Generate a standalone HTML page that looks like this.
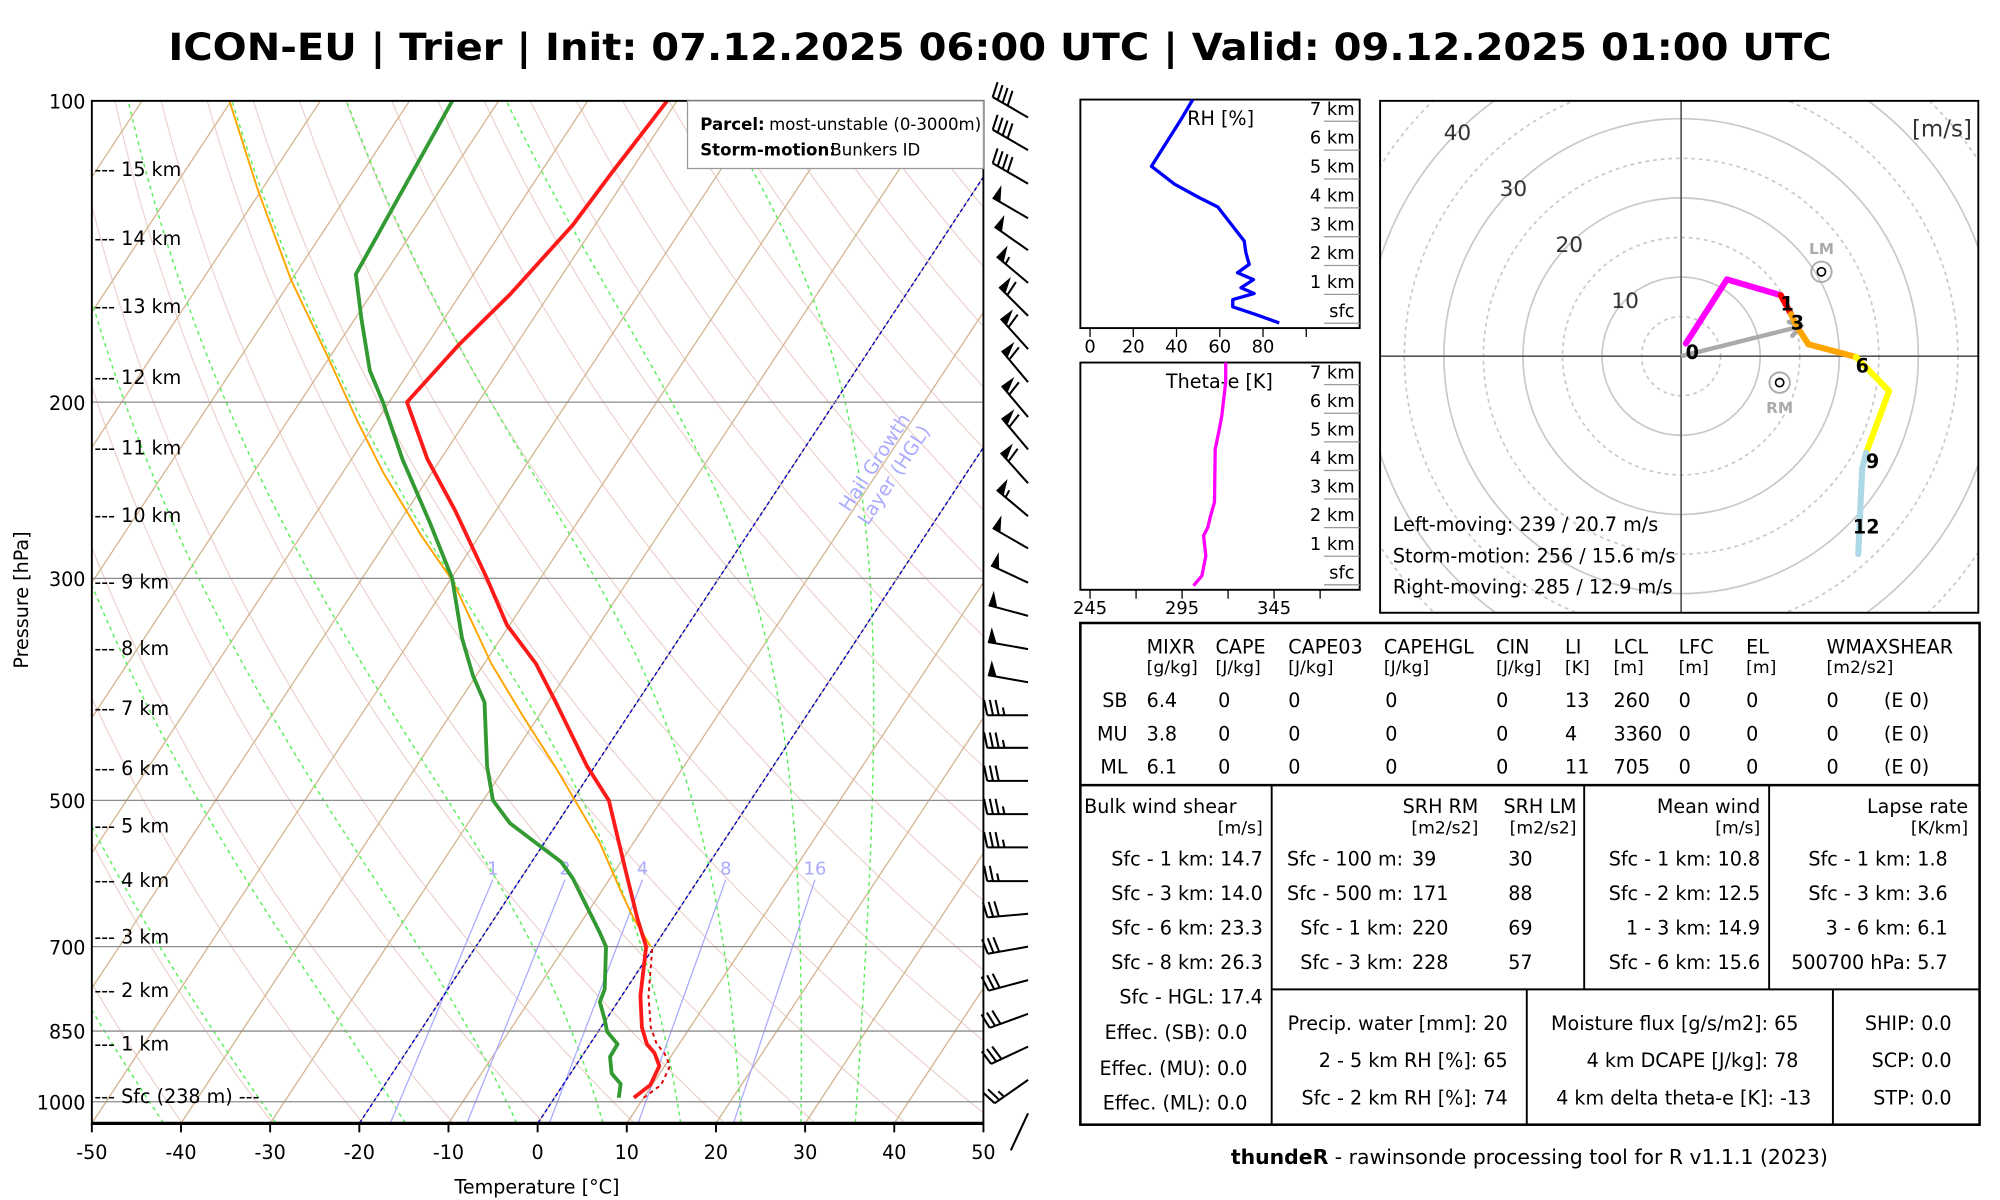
<!DOCTYPE html>
<html><head><meta charset="utf-8"><title>ICON-EU Trier sounding</title>
<style>
html,body{margin:0;padding:0;background:#fff;}
svg{display:block;}
text{font-family:"DejaVu Sans","Liberation Sans",sans-serif;}
</style></head>
<body>
<svg id="c" xmlns="http://www.w3.org/2000/svg" viewBox="0 0 1568 940" width="2000" height="1200" preserveAspectRatio="none">
<defs>
<clipPath id="clipSkew"><rect x="72" y="79" width="699" height="801"/></clipPath>
<clipPath id="clipHodo"><rect x="1082" y="79" width="469" height="401"/></clipPath>
<clipPath id="clipRH"><rect x="847" y="78" width="219" height="179"/></clipPath>
<clipPath id="clipTE"><rect x="847" y="284" width="219" height="178"/></clipPath>
</defs>
<rect x="0" y="0" width="1568" height="940" fill="#fff"/>
<text x="784" y="47" text-anchor="middle" font-size="29" font-weight="bold" textLength="1304" lengthAdjust="spacingAndGlyphs">ICON-EU | Trier | Init: 07.12.2025 06:00 UTC | Valid: 09.12.2025 01:00 UTC</text>

<g id="skewBg" clip-path="url(#clipSkew)"></g>
<g id="skewData" clip-path="url(#clipSkew)"></g>
<g id="skewAxes"></g>
<g id="barbs"></g>

<g>
<rect x="539" y="79" width="232" height="53" fill="#fff" stroke="#999" stroke-width="1"/>
<text x="549" y="102" font-size="13" font-weight="bold">Parcel:</text>
<text x="603" y="102" font-size="13">most-unstable (0-3000m)</text>
<text x="549" y="122" font-size="13" font-weight="bold">Storm-motion:</text>
<text x="651" y="122" font-size="13">Bunkers ID</text>
</g>

<g id="rhPanel"></g>
<g id="tePanel"></g>
<g id="hodo"></g>

<g font-size="15">
<rect x="847" y="488" width="705" height="393" fill="none" stroke="#000" stroke-width="2"/>
<line x1="847" y1="615" x2="1552" y2="615" stroke="#000" stroke-width="2"/>
<line x1="997" y1="615" x2="997" y2="881" stroke="#000" stroke-width="1.5"/>
<line x1="1242" y1="615" x2="1242" y2="775" stroke="#000" stroke-width="1.5"/>
<line x1="1387" y1="615" x2="1387" y2="775" stroke="#000" stroke-width="1.5"/>
<line x1="997" y1="775" x2="1552" y2="775" stroke="#000" stroke-width="1.5"/>
<line x1="1197" y1="775" x2="1197" y2="881" stroke="#000" stroke-width="1.5"/>
<line x1="1437" y1="775" x2="1437" y2="881" stroke="#000" stroke-width="1.5"/>
<g>
<text x="899" y="512">MIXR</text><text x="953" y="512">CAPE</text><text x="1010" y="512">CAPE03</text><text x="1085" y="512">CAPEHGL</text><text x="1173" y="512">CIN</text><text x="1227" y="512">LI</text><text x="1265" y="512">LCL</text><text x="1316" y="512">LFC</text><text x="1369" y="512">EL</text><text x="1432" y="512">WMAXSHEAR</text>
</g>
<g font-size="13.5">
<text x="899" y="527">[g/kg]</text><text x="953" y="527">[J/kg]</text><text x="1010" y="527">[J/kg]</text><text x="1085" y="527">[J/kg]</text><text x="1173" y="527">[J/kg]</text><text x="1227" y="527">[K]</text><text x="1265" y="527">[m]</text><text x="1316" y="527">[m]</text><text x="1369" y="527">[m]</text><text x="1432" y="527">[m2/s2]</text>
</g>
<g>
<text x="884" y="554" text-anchor="end">SB</text><text x="899" y="554">6.4</text><text x="955" y="554">0</text><text x="1010" y="554">0</text><text x="1086" y="554">0</text><text x="1173" y="554">0</text><text x="1227" y="554">13</text><text x="1265" y="554">260</text><text x="1316" y="554">0</text><text x="1369" y="554">0</text><text x="1432" y="554">0</text><text x="1477" y="554">(E 0)</text>
</g>
<g>
<text x="884" y="580" text-anchor="end">MU</text><text x="899" y="580">3.8</text><text x="955" y="580">0</text><text x="1010" y="580">0</text><text x="1086" y="580">0</text><text x="1173" y="580">0</text><text x="1227" y="580">4</text><text x="1265" y="580">3360</text><text x="1316" y="580">0</text><text x="1369" y="580">0</text><text x="1432" y="580">0</text><text x="1477" y="580">(E 0)</text>
</g>
<g>
<text x="884" y="606" text-anchor="end">ML</text><text x="899" y="606">6.1</text><text x="955" y="606">0</text><text x="1010" y="606">0</text><text x="1086" y="606">0</text><text x="1173" y="606">0</text><text x="1227" y="606">11</text><text x="1265" y="606">705</text><text x="1316" y="606">0</text><text x="1369" y="606">0</text><text x="1432" y="606">0</text><text x="1477" y="606">(E 0)</text>
</g>
<g text-anchor="end">
<text x="850" y="637" text-anchor="start">Bulk wind shear</text>
<text x="990" y="653" font-size="13.5">[m/s]</text>
<text x="990" y="678">Sfc - 1 km: 14.7</text>
<text x="990" y="705">Sfc - 3 km: 14.0</text>
<text x="990" y="732">Sfc - 6 km: 23.3</text>
<text x="990" y="759">Sfc - 8 km: 26.3</text>
<text x="990" y="786">Sfc - HGL: 17.4</text>
<text x="978" y="814">Effec. (SB): 0.0</text>
<text x="978" y="842">Effec. (MU): 0.0</text>
<text x="978" y="869">Effec. (ML): 0.0</text>
</g>
<g>
<text x="1159" y="637" text-anchor="end">SRH RM</text><text x="1236" y="637" text-anchor="end">SRH LM</text>
<text x="1159" y="653" text-anchor="end" font-size="13.5">[m2/s2]</text><text x="1236" y="653" text-anchor="end" font-size="13.5">[m2/s2]</text>
<text x="1100" y="678" text-anchor="end">Sfc - 100 m:</text><text x="1107" y="678">39</text><text x="1192" y="678" text-anchor="middle">30</text>
<text x="1100" y="705" text-anchor="end">Sfc - 500 m:</text><text x="1107" y="705">171</text><text x="1192" y="705" text-anchor="middle">88</text>
<text x="1100" y="732" text-anchor="end">Sfc - 1 km:</text><text x="1107" y="732">220</text><text x="1192" y="732" text-anchor="middle">69</text>
<text x="1100" y="759" text-anchor="end">Sfc - 3 km:</text><text x="1107" y="759">228</text><text x="1192" y="759" text-anchor="middle">57</text>
</g>
<g text-anchor="end">
<text x="1380" y="637">Mean wind</text>
<text x="1380" y="653" font-size="13.5">[m/s]</text>
<text x="1380" y="678">Sfc - 1 km: 10.8</text>
<text x="1380" y="705">Sfc - 2 km: 12.5</text>
<text x="1380" y="732">1 - 3 km: 14.9</text>
<text x="1380" y="759">Sfc - 6 km: 15.6</text>
</g>
<g text-anchor="end">
<text x="1543" y="637">Lapse rate</text>
<text x="1543" y="653" font-size="13.5">[K/km]</text>
<text x="1527" y="678">Sfc - 1 km: 1.8</text>
<text x="1527" y="705">Sfc - 3 km: 3.6</text>
<text x="1527" y="732">3 - 6 km: 6.1</text>
<text x="1527" y="759">500700 hPa: 5.7</text>
</g>
<g text-anchor="end">
<text x="1182" y="807">Precip. water [mm]: 20</text>
<text x="1182" y="836">2 - 5 km RH [%]: 65</text>
<text x="1182" y="865">Sfc - 2 km RH [%]: 74</text>
<text x="1410" y="807">Moisture flux [g/s/m2]: 65</text>
<text x="1410" y="836">4 km DCAPE [J/kg]: 78</text>
<text x="1420" y="865">4 km delta theta-e [K]: -13</text>
</g>
<g text-anchor="end">
<text x="1530" y="807">SHIP: 0.0</text>
<text x="1530" y="836">SCP: 0.0</text>
<text x="1530" y="865">STP: 0.0</text>
</g>
</g>
<text x="1199" y="912" text-anchor="middle" font-size="16"><tspan font-weight="bold">thundeR</tspan> - rawinsonde processing tool for R v1.1.1 (2023)</text>
</svg>

<script>
// ---------- Skew-T data ----------
const tempP = [991,962,921,894,876,843,784,700,657,584,500,462,399,365,334,300,257,228,200,175,156,133,118,100];
const tempT = [8.9,9.8,9.4,7.9,6.4,4.6,2.1,-0.9,-3.9,-9.1,-15.9,-20.9,-29.1,-34.2,-40.3,-46.0,-54.5,-61.5,-68.0,-66.4,-64.4,-62.5,-62.0,-61.1];
const dewP = [991,960,937,902,876,851,827,795,772,700,677,598,576,551,527,500,462,399,375,344,300,264,228,200,186,165,149,100];
const dewT = [7.2,6.4,4.6,3.2,3.1,1.0,-0.2,-2.0,-2.4,-5.4,-7.2,-14.2,-16.7,-21.0,-25.3,-28.9,-32.1,-37.1,-40.4,-44.4,-49.9,-56.5,-64.3,-70.7,-74.5,-79.3,-83.2,-85.2];
const virtP = [991,962,921,894,876,843,784,700];
const virtT = [10.0,11.0,10.6,9.0,7.5,5.6,3.0,-0.2];
const parcelP = [700,657,620,551,500,462,411,365,302,272,235,208.4,180.3,151.1,122.8,100];
const parcelT = [-0.4,-4.3,-7.5,-13.8,-19.7,-24.5,-31.9,-39.2,-49.6,-56.5,-65.5,-72.3,-80.2,-90.0,-100.4,-110.2];
const isobarTicks = [100,200,300,500,700,850,1000];
const tempTicks = [-50,-40,-30,-20,-10,0,10,20,30,40,50];
const kmLabels = ["15 km","14 km","13 km","12 km","11 km","10 km","9 km","8 km","7 km","6 km","5 km","4 km","3 km","2 km","1 km","Sfc (238 m) ---"];
const kmP = [117.2,137.3,160.5,189.1,222.3,259.7,302.6,352.6,404.7,464.6,530.2,601.6,684.6,774.5,876.2,988.4];
const moistStartT = [-42,-29.4,-14.9,-2.4,7.3,16,22.8,29.5,35.6];
const mixRatios = [1,2,4,8,16];
// wind barbs
const barbP = [103.9,112,121,131,141,152,164,177,191,207,223,241,260,280,303,327,353,381,411,443,478,516,557,602,649,700,756,817,881,951,1027];
const barbDir = [300,300,300,300,305,310,315,318,320,320,320,318,310,300,295,285,280,280,270,270,270,270,270,270,265,260,255,250,245,235,205];
const barbKt = [40,40,40,50,50,55,60,60,60,60,60,60,55,50,50,50,50,50,35,35,30,35,35,25,30,30,30,30,30,25,2];
// RH / theta-e
const rhVal = [47.5,42.2,28.4,39.1,50.6,59.1,71.3,72.1,73.6,68.2,75.6,69.8,75.9,66,66,76.7,87.5];
const rhH = [7.75,7.08,5.44,4.82,4.35,4.03,2.85,2.44,2.04,1.75,1.51,1.23,1.03,0.82,0.57,0.30,0.01];
const teVal = [318.7,318.7,316.6,315.1,313.0,312.6,310.3,309.0,306.7,307.9,305.8,301.2];
const teH = [7.79,7.09,5.92,5.40,4.75,2.89,2.37,2.01,1.72,1.02,0.32,-0.03];
const rhTicks = [0,20,40,60,80,100];
const teTicks = [245,270,295,320,345,370];
const heightTicks = ["sfc","1 km","2 km","3 km","4 km","5 km","6 km","7 km"];
// hodograph
const hodoH = [0,0.5,1,3,3.5,4.5,6,7.5,9,9.5,12,13];
const hodoU = [0.6,5.8,12.6,13.9,14.8,16.1,22.1,26.3,23.4,22.9,22.6,22.4];
const hodoV = [1.6,9.7,7.7,5.3,3.5,1.5,-0.1,-4.4,-12.2,-14.2,-20.5,-25.0];
const hodoMarkH = [0,1,3,6,9,12];
const hodoMarkLbl = ["0","1","3","6","9","12"];
const stormNames = ["LM","SM","RM"];
const stormDir = [239,256,285];
const stormSpd = [20.7,15.6,12.9];
const ringLabels = [10,20,30,40];

const NS = "http://www.w3.org/2000/svg";
function mk(tag, parent){ const e=document.createElementNS(NS,tag); parent.appendChild(e); return e; }
function pathD(pts){ return pts.map((p,i)=>(i?"L":"M")+p[0].toFixed(2)+","+p[1].toFixed(2)).join(""); }

function yP(p){ return 79 + 784*Math.log10(p/100); }
function xT(T,p){ return 421.5 + 6.99*T + (880 - yP(p))*0.66; }

const bg = document.getElementById('skewBg');
const dat = document.getElementById('skewData');
const ax = document.getElementById('skewAxes');

function pLevels(){ const a=[]; for(let p=1050;p>=100;p-=10) a.push(p); return a; }
for(let th=200; th<=520; th+=10){
  const pts = pLevels().map(p=>[xT(th*Math.pow(p/1000,0.286)-273.15,p), yP(p)]);
  const el = mk('path',bg);
  
  
  el.setAttribute('d',pathD(pts)); el.setAttribute('fill','none'); el.setAttribute('stroke','#ecd0cc'); el.setAttribute('stroke-width','0.9');
}
for(let T=-160; T<=50; T+=10){
  const el = mk('line',bg);
  
  
  el.setAttribute('x1',xT(T,1050)); el.setAttribute('y1',yP(1050)); el.setAttribute('x2',xT(T,100)); el.setAttribute('y2',yP(100));
  el.setAttribute('stroke','#d2b48c'); el.setAttribute('stroke-width','1');
}
function moist(T0c,p0){
  const pts=[]; let T=T0c+273.15, p=p0; const Rd=287,cp=1004,Lv=2.5e6,eps=0.622;
  while(p>=99){ pts.push([xT(T-273.15,p),yP(p)]);
    const tc=T-273.15; const es=6.112*Math.exp(17.67*tc/(tc+243.5)); const rs=eps*es/Math.max(p-es,1);
    const d=(Rd*T+Lv*rs)/(cp+Lv*Lv*rs*eps/(Rd*T*T)); const dl=-0.01; T+=d*dl; p*=Math.exp(dl); }
  return pts;
}
moistStartT.forEach(t=>{
  const el = mk('path',bg);
  
  
  el.setAttribute('d',pathD(moist(t,1050))); el.setAttribute('fill','none'); el.setAttribute('stroke','#55ee55'); el.setAttribute('stroke-width','1.1'); el.setAttribute('stroke-dasharray','3,3');
});
function tdFromW(w,p){ const e=w*p/(622+w); const l=Math.log(e/6.112); return 243.5*l/(17.67-l); }
mixRatios.forEach(w=>{
  const el = mk('line',bg);
  
  
  el.setAttribute('x1',xT(tdFromW(w,1050),1050)); el.setAttribute('y1',yP(1050));
  el.setAttribute('x2',xT(tdFromW(w,600),600)); el.setAttribute('y2',yP(600));
  el.setAttribute('stroke','#aaaaff'); el.setAttribute('stroke-width','1');
  const t = mk('text',bg);
  
  
  t.setAttribute('x',xT(tdFromW(w,600),600)); t.setAttribute('y',yP(600)-4);
  t.setAttribute('text-anchor','middle'); t.setAttribute('font-size','14'); t.setAttribute('fill','#aaaaff'); t.textContent=w;
});
[-20,0].forEach(T=>{
  const el = mk('line',bg);
  
  
  el.setAttribute('x1',xT(T,1050)); el.setAttribute('y1',yP(1050)); el.setAttribute('x2',xT(T,100)); el.setAttribute('y2',yP(100));
  el.setAttribute('stroke','#0000cc'); el.setAttribute('stroke-width','1.1'); el.setAttribute('stroke-dasharray','3,2');
});
{
  const t = mk('text',bg);
  
  
  t.setAttribute('transform','translate(690,365) rotate(-56.6)'); t.setAttribute('text-anchor','middle');
  t.setAttribute('font-size','15'); t.setAttribute('fill','#aaaaff');
  const s1=mk('tspan',t); s1.setAttribute('x','0'); s1.setAttribute('y','0'); s1.textContent='Hail Growth';
  const s2=mk('tspan',t); s2.setAttribute('x','0'); s2.setAttribute('y','18'); s2.textContent='Layer (HGL)';
}
isobarTicks.forEach(p=>{
  const el = mk('line',bg);
  
  
  el.setAttribute('x1',72); el.setAttribute('x2',771); el.setAttribute('y1',yP(p)); el.setAttribute('y2',yP(p));
  el.setAttribute('stroke','#8c8c8c'); el.setAttribute('stroke-width','1');
});
function profile(P,T,color,w,name,dash){
  const el = mk('path',dat);
  
  
  el.setAttribute('d',pathD(P.map((p,i)=>[xT(T[i],p),yP(p)])));
  el.setAttribute('fill','none'); el.setAttribute('stroke',color); el.setAttribute('stroke-width',w);
  el.setAttribute('stroke-linejoin','round');
  if(dash) el.setAttribute('stroke-dasharray',dash);
}
profile(virtP,virtT,'#dd0000',1.5,'virtual-temperature-line','3,3');
profile(parcelP,parcelT,'#ffa500',1.5,'parcel-line');
profile(dewP,dewT,'#339933',3,'dewpoint-line');
profile(tempP,tempT,'#ff1a1a',3,'temperature-line');

{
  const r = mk('rect',ax);
  
  
  r.setAttribute('x',72); r.setAttribute('y',79); r.setAttribute('width',699); r.setAttribute('height',801);
  r.setAttribute('fill','none'); r.setAttribute('stroke','#000'); r.setAttribute('stroke-width','1.5');
  const b = mk('line',ax);
  
  
  b.setAttribute('x1',72); b.setAttribute('x2',771); b.setAttribute('y1',880); b.setAttribute('y2',880); b.setAttribute('stroke','#000'); b.setAttribute('stroke-width','2.5');
}
tempTicks.forEach(T=>{
  const x = 421.5 + 6.99*T;
  const tk = mk('line',ax);
  
  
  tk.setAttribute('x1',x); tk.setAttribute('x2',x); tk.setAttribute('y1',880); tk.setAttribute('y2',887); tk.setAttribute('stroke','#000'); tk.setAttribute('stroke-width','1.5');
  const t = mk('text',ax);
  
  
  t.setAttribute('x',x); t.setAttribute('y',908); t.setAttribute('text-anchor','middle'); t.setAttribute('font-size','15'); t.textContent=T;
});
isobarTicks.forEach(p=>{
  const t = mk('text',ax);
  
  
  t.setAttribute('x',67); t.setAttribute('y',yP(p)+6); t.setAttribute('text-anchor','end'); t.setAttribute('font-size','15'); t.textContent=p;
});
{
  const t = mk('text',ax);
  
  
  t.setAttribute('x',421); t.setAttribute('y',935); t.setAttribute('text-anchor','middle'); t.setAttribute('font-size','15'); t.textContent='Temperature [°C]';
  const y = mk('text',ax);
  
  
  y.setAttribute('transform','translate(22,470) rotate(-90)'); y.setAttribute('text-anchor','middle'); y.setAttribute('font-size','15'); y.textContent='Pressure [hPa]';
}
kmLabels.forEach((s,i)=>{
  const t = mk('text',ax);
  
  
  t.setAttribute('x',74); t.setAttribute('y',yP(kmP[i])+5); t.setAttribute('font-size','15'); t.textContent='--- '+s;
});

// ---------- wind barbs ----------
const bg2 = document.getElementById('barbs');
barbP.forEach((p,i)=>{
  const d = barbDir[i]*Math.PI/180, spd = barbKt[i];
  const sx=Math.sin(d), sy=-Math.cos(d), nx=-sy, ny=sx;
  const X0=806, Y0=yP(p), L=32;
  const g = mk('g',bg2);
  
  
  const st = mk('line',g);
  
  
  st.setAttribute('x1',X0); st.setAttribute('y1',Y0); st.setAttribute('x2',X0+sx*L); st.setAttribute('y2',Y0+sy*L);
  st.setAttribute('stroke','#000'); st.setAttribute('stroke-width','1.6');
  let rem = Math.round(spd/5)*5, pos = L;
  while(rem>=50){
    const f = mk('polygon',g);
    
    
    const ax1=X0+sx*pos, ay1=Y0+sy*pos, bx=X0+sx*(pos-7), by=Y0+sy*(pos-7);
    const cx=X0+sx*(pos-1)+nx*12, cy=Y0+sy*(pos-1)+ny*12;
    f.setAttribute('points',`${ax1},${ay1} ${cx},${cy} ${bx},${by}`); f.setAttribute('fill','#000');
    rem-=50; pos-=9;
  }
  while(rem>=10){
    const b = mk('line',g);
    
    
    b.setAttribute('x1',X0+sx*pos); b.setAttribute('y1',Y0+sy*pos);
    b.setAttribute('x2',X0+sx*(pos+2.5)+nx*12); b.setAttribute('y2',Y0+sy*(pos+2.5)+ny*12);
    b.setAttribute('stroke','#000'); b.setAttribute('stroke-width','1.6');
    rem-=10; pos-=4.5;
  }
  if(rem>=5){
    if(pos===L) pos-=4.5;
    const h = mk('line',g);
    
    
    h.setAttribute('x1',X0+sx*pos); h.setAttribute('y1',Y0+sy*pos);
    h.setAttribute('x2',X0+sx*(pos+1.25)+nx*6); h.setAttribute('y2',Y0+sy*(pos+1.25)+ny*6);
    h.setAttribute('stroke','#000'); h.setAttribute('stroke-width','1.6');
  }
});

// ---------- RH & theta-e panels ----------
function sidePanel(gid, top, bottom, vMin, pxPer, sfcY, kmPx, vals, hs, color, title, ticks, labelTicks, clip){
  const g = document.getElementById(gid);
  const frame = mk('rect',g);
  
  
  frame.setAttribute('x',847); frame.setAttribute('y',top); frame.setAttribute('width',219); frame.setAttribute('height',bottom-top);
  frame.setAttribute('fill','none'); frame.setAttribute('stroke','#000'); frame.setAttribute('stroke-width','1.5');
  heightTicks.forEach((s,i)=>{
    const y = sfcY - i*kmPx;
    const tl = mk('line',g);
    
    
    tl.setAttribute('x1',1038); tl.setAttribute('x2',1066); tl.setAttribute('y1',y); tl.setAttribute('y2',y); tl.setAttribute('stroke','#999'); tl.setAttribute('stroke-width','1');
    const t = mk('text',g);
    
    
    t.setAttribute('x',1062); t.setAttribute('y',y-5); t.setAttribute('text-anchor','end'); t.setAttribute('font-size','14'); t.textContent=s;
  });
  ticks.forEach(v=>{
    const x = 854.6 + (v-vMin)*pxPer;
    const tk = mk('line',g);
    
    
    tk.setAttribute('x1',x); tk.setAttribute('x2',x); tk.setAttribute('y1',bottom); tk.setAttribute('y2',bottom+7); tk.setAttribute('stroke','#000'); tk.setAttribute('stroke-width','1');
    if(labelTicks.indexOf(v)>=0){
      const t = mk('text',g);
      
      
      t.setAttribute('x',x); t.setAttribute('y',bottom+19); t.setAttribute('text-anchor','middle'); t.setAttribute('font-size','14'); t.textContent=v;
    }
  });
  const tt = mk('text',g);
  
  
  tt.setAttribute('x',title[1]); tt.setAttribute('y',top+20); tt.setAttribute('text-anchor','middle'); tt.setAttribute('font-size','15'); tt.textContent=title[0];
  const ln = mk('path',g);
  
  
  ln.setAttribute('clip-path','url(#'+clip+')');
  ln.setAttribute('d',pathD(vals.map((v,i)=>[854.6+(v-vMin)*pxPer, sfcY - hs[i]*kmPx])));
  ln.setAttribute('fill','none'); ln.setAttribute('stroke',color); ln.setAttribute('stroke-width','2.6'); ln.setAttribute('stroke-linejoin','round');
}
sidePanel('rhPanel',78,257,0,1.695,253.2,22.6,rhVal,rhH,'#0000ff',['RH [%]',957],rhTicks,[0,20,40,60,80],'clipRH');
sidePanel('tePanel',284,462,245,1.443,458.1,22.4,teVal,teH,'#ff00ff',['Theta-e [K]',956],teTicks,[245,295,345],'clipTE');

// ---------- hodograph ----------
const hg = document.getElementById('hodo');
const HX=1318, HY=279, HS=6.2;
const hin = mk('g',hg);


hin.setAttribute('clip-path','url(#clipHodo)');
for(let r=5;r<=60;r+=5){
  const c = mk('circle',hin);
  
  
  c.setAttribute('cx',HX); c.setAttribute('cy',HY); c.setAttribute('r',r*HS);
  c.setAttribute('fill','none'); c.setAttribute('stroke','#c8c8c8'); c.setAttribute('stroke-width','1.3');
  if(r%10) c.setAttribute('stroke-dasharray','3,3');
}
{
  const a1 = mk('line',hin);
  
  
  a1.setAttribute('x1',1082); a1.setAttribute('x2',1551); a1.setAttribute('y1',HY); a1.setAttribute('y2',HY); a1.setAttribute('stroke','#555'); a1.setAttribute('stroke-width','1.3');
  const a2 = mk('line',hin);
  
  
  a2.setAttribute('x1',HX); a2.setAttribute('x2',HX); a2.setAttribute('y1',79); a2.setAttribute('y2',480); a2.setAttribute('stroke','#555'); a2.setAttribute('stroke-width','1.3');
}
ringLabels.forEach(r=>{
  const t = mk('text',hg);
  
  
  const d = r*HS/Math.SQRT2;
  t.setAttribute('x',HX-d); t.setAttribute('y',HY-d+6); t.setAttribute('text-anchor','middle'); t.setAttribute('font-size','17'); t.setAttribute('fill','#333'); t.textContent=r;
});
{
  const t = mk('text',hg);
  
  
  t.setAttribute('x',1546); t.setAttribute('y',107); t.setAttribute('text-anchor','end'); t.setAttribute('font-size','18'); t.setAttribute('fill','#333'); t.textContent='[m/s]';
}
function smXY(i){ const d=stormDir[i]*Math.PI/180; return [HX - stormSpd[i]*Math.sin(d)*HS, HY + stormSpd[i]*Math.cos(d)*HS]; }
{
  const [ex,ey] = smXY(1);
  const ar = mk('line',hg);
  
  
  ar.setAttribute('x1',HX); ar.setAttribute('y1',HY); ar.setAttribute('x2',ex); ar.setAttribute('y2',ey);
  ar.setAttribute('stroke','#aaa'); ar.setAttribute('stroke-width','3.5');
  const ang = Math.atan2(ey-HY, ex-HX);
  const hd = mk('path',hg);
  
  
  const p1=[ex-10*Math.cos(ang-0.6), ey-10*Math.sin(ang-0.6)], p2=[ex-10*Math.cos(ang+0.6), ey-10*Math.sin(ang+0.6)];
  hd.setAttribute('d',pathD([p1,[ex,ey],p2])); hd.setAttribute('fill','none'); hd.setAttribute('stroke','#aaa'); hd.setAttribute('stroke-width','3.5'); hd.setAttribute('stroke-linecap','round');
}
[0,2].forEach(i=>{
  const [x,y] = smXY(i);
  const c = mk('circle',hg);
  
  
  c.setAttribute('cx',x); c.setAttribute('cy',y); c.setAttribute('r',8); c.setAttribute('fill','none'); c.setAttribute('stroke','#aaa'); c.setAttribute('stroke-width','1.5');
  const o = mk('circle',hg);
  
  
  o.setAttribute('cx',x); o.setAttribute('cy',y); o.setAttribute('r',3.2); o.setAttribute('fill','none'); o.setAttribute('stroke','#000'); o.setAttribute('stroke-width','1.3');
  const t = mk('text',hg);
  
  
  t.setAttribute('x',x); t.setAttribute('y', i===0 ? y-14 : y+24); t.setAttribute('text-anchor','middle'); t.setAttribute('font-size','12'); t.setAttribute('font-weight','bold'); t.setAttribute('fill','#aaa'); t.textContent=stormNames[i];
});
function segColor(h){ return h<1?'#ff00ff':h<3?'#ff0000':h<6?'#ffa500':h<9?'#ffff00':'#add8e6'; }
for(let i=0;i<hodoU.length-1;i++){
  const s = mk('line',hg);
  
  
  s.setAttribute('x1',HX+hodoU[i]*HS); s.setAttribute('y1',HY-hodoV[i]*HS);
  s.setAttribute('x2',HX+hodoU[i+1]*HS); s.setAttribute('y2',HY-hodoV[i+1]*HS);
  s.setAttribute('stroke',segColor(hodoH[i])); s.setAttribute('stroke-width','4.8'); s.setAttribute('stroke-linecap','round');
}
hodoMarkH.forEach((h,k)=>{
  const i = hodoH.indexOf(h);
  const t = mk('text',hg);
  
  
  t.setAttribute('x',HX+hodoU[i]*HS+5); t.setAttribute('y',HY-hodoV[i]*HS+12); t.setAttribute('text-anchor','middle');
  t.setAttribute('font-size','15'); t.setAttribute('font-weight','bold'); t.textContent=hodoMarkLbl[k];
});
["Left-moving","Storm-motion","Right-moving"].forEach((n,i)=>{
  const t = mk('text',hg);
  
  
  t.setAttribute('x',1092); t.setAttribute('y',416+i*24.5); t.setAttribute('font-size','15');
  t.textContent = n+': '+stormDir[i]+' / '+stormSpd[i].toFixed(1)+' m/s';
});
{
  const f = mk('rect',hg);
  
  
  f.setAttribute('x',1082); f.setAttribute('y',79); f.setAttribute('width',469); f.setAttribute('height',401);
  f.setAttribute('fill','none'); f.setAttribute('stroke','#000'); f.setAttribute('stroke-width','1.5');
}
</script>
</body></html>
